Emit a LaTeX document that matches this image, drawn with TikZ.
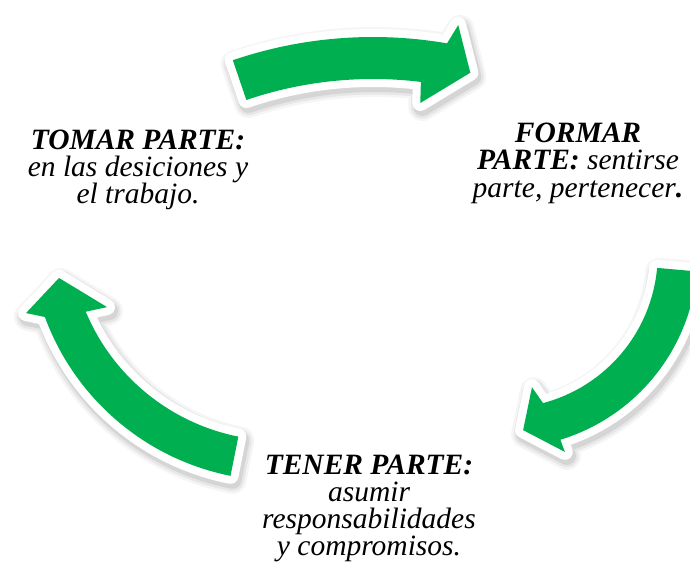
\documentclass[tikz,border=0pt]{standalone}
\usepackage{fontspec}
\setmainfont{Liberation Serif}
\usetikzlibrary{positioning}
\definecolor{arrowgreen}{RGB}{0,176,80}
\tikzset{
  arrowbody/.style={fill=arrowgreen},
  arrowrim/.style={draw=white, line width=16pt, line join=round},
  arrowshade/.style={draw=black, fill=black, line width=#1, line join=round, xshift=2pt, yshift=-4pt},
  stage/.style={align=center, anchor=base, inner sep=0pt, font=\fontsize{29.5}{27}\selectfont\itshape}
}
\newcommand{\cyclearrow}[2]{%
  \begin{scope}[shift={#1}]
    \foreach \w/\o in {28pt/0.04, 23pt/0.06, 18pt/0.08} {
      \begin{scope}[transparency group, opacity=\o]
        \path[arrowshade=\w] #2;
      \end{scope}
    }
    \path[arrowrim] #2;
    \path[arrowbody] #2;
  \end{scope}
}

\begin{document}
\begin{tikzpicture}[x=1pt, y=1pt]
\useasboundingbox (0,0) rectangle (690,566);
\clip (0,0) rectangle (690,566);

% arrows
\cyclearrow{(373,94)}{(108.8:435) arc[start angle=108.8, end angle=80.2, radius=435] -- (79.2:455) -- (76.3:411) -- (82.7:372) -- (83:393) arc[start angle=83, end angle=108.8, radius=393] -- cycle}
\cyclearrow{(503.7,311.8)}{(-5.1:194) arc[start angle=-5.1, end angle=-73, radius=194] -- (-72.8:207) -- (-83.7:177) -- (-78:136) -- (-75.2:154) arc[start angle=-75.2, end angle=-5.1, radius=154] -- cycle}
\cyclearrow{(279.5,335.3)}{(258.7:250) arc[start angle=258.7, end angle=200.2, radius=250] -- (198:266.5) -- (192.1:225.5) -- (203.9:188.6) -- (202.7:210) arc[start angle=202.7, end angle=258.7, radius=210] -- cycle}

% texts (anchored on the last baseline)
\node[stage] (tomar) at (138,363) {\textbf{TOMAR PARTE:}\\en las desiciones y\\el trabajo.};
\node[stage] (formar) at (578,369) {\textbf{FORMAR}\\\textbf{PARTE:} sentirse\\[1pt]parte, pertenecer\textbf{.}};
\node[stage] (tener) at (369,11) {\textbf{TENER PARTE:}\\asumir\\responsabilidades\\y compromisos.};
\end{tikzpicture}
\end{document}
